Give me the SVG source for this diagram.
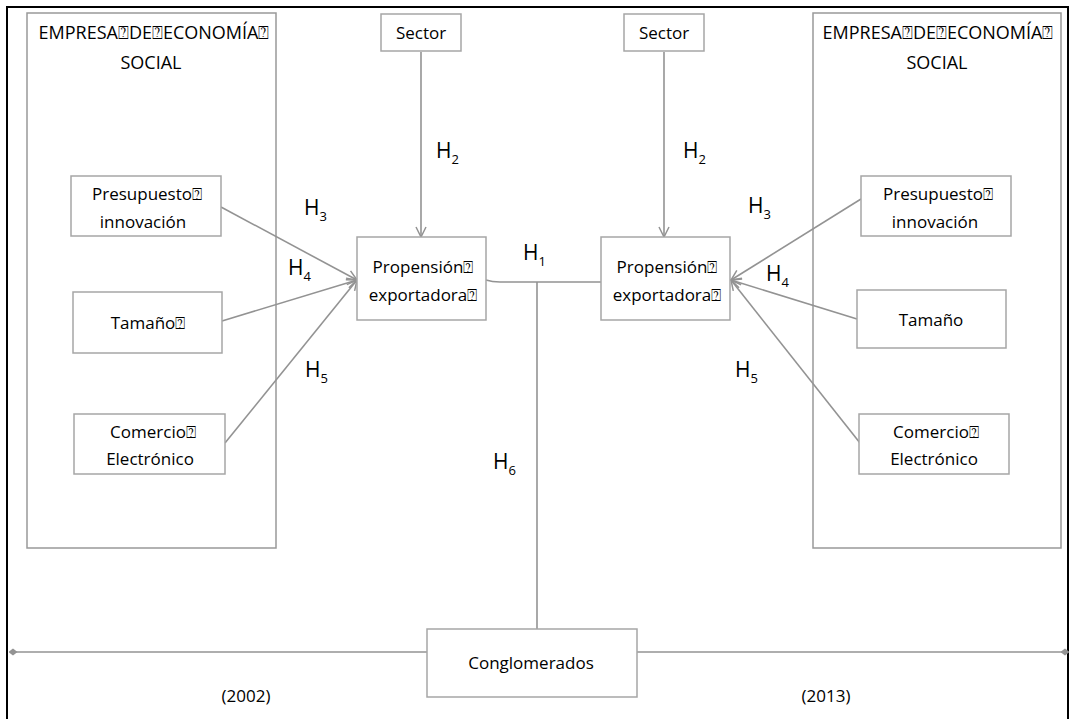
<svg xmlns="http://www.w3.org/2000/svg" width="1074" height="719" viewBox="0 0 1074 719">
<style>
text{font-family:"Open Sans","Liberation Sans",sans-serif;font-size:17px;fill:#000;text-anchor:middle}
.box{fill:#fff;stroke:#a6a6a6;stroke-width:1.5}
.big{fill:#fff;stroke:#999;stroke-width:1.5}
.con{fill:none;stroke:#939393;stroke-width:1.6}
.t{font-size:18px}
.h{font-size:21px;text-anchor:start}
.sub{font-size:13px}
</style>
<defs>
<marker id="arr" viewBox="0 0 12 12" refX="11" refY="6" markerWidth="12" markerHeight="12" markerUnits="userSpaceOnUse" orient="auto">
<path d="M1,1 L11,6 L1,11" fill="none" stroke="#939393" stroke-width="1.5"/>
</marker>
<marker id="dia" viewBox="0 0 10 10" refX="5" refY="5" markerWidth="9" markerHeight="9" markerUnits="userSpaceOnUse" orient="auto">
<path d="M0,5 L5,1 L10,5 L5,9 Z" fill="#939393"/>
</marker>
</defs>
<rect x="0" y="0" width="1074" height="719" fill="#fff"/>
<rect x="7" y="7" width="1061" height="730" fill="none" stroke="#000" stroke-width="2"/>

<g id="empresa-left">
<rect class="big" x="27" y="13" width="249" height="535"/>
<text class="t" x="154" y="39">EMPRESA⍰DE⍰ECONOMÍA⍰</text>
<text class="t" x="151" y="69">SOCIAL</text>
</g>
<g id="empresa-right">
<rect class="big" x="813" y="13" width="248" height="535"/>
<text class="t" x="938" y="39">EMPRESA⍰DE⍰ECONOMÍA⍰</text>
<text class="t" x="937" y="69">SOCIAL</text>
</g>

<g id="connectors">
<line class="con" x1="421" y1="52" x2="421" y2="237" marker-end="url(#arr)"/>
<line class="con" x1="664" y1="52" x2="664" y2="237" marker-end="url(#arr)"/>
<line class="con" x1="221" y1="207" x2="357" y2="280" marker-end="url(#arr)"/>
<line class="con" x1="222" y1="321" x2="357" y2="280" marker-end="url(#arr)"/>
<line class="con" x1="225" y1="443" x2="357" y2="280" marker-end="url(#arr)"/>
<line class="con" x1="861" y1="199" x2="731" y2="280" marker-end="url(#arr)"/>
<line class="con" x1="857" y1="319" x2="731" y2="280" marker-end="url(#arr)"/>
<line class="con" x1="860" y1="443" x2="731" y2="280" marker-end="url(#arr)"/>
<path class="con" d="M486,280 Q492,282 500,282 L601,282"/>
<line class="con" x1="537" y1="282" x2="537" y2="629"/>
<line class="con" x1="13" y1="652" x2="427" y2="652" marker-start="url(#dia)"/>
<line class="con" x1="637" y1="652" x2="1065" y2="652" marker-end="url(#dia)"/>
</g>

<g id="sector-left"><rect class="box" x="381" y="14" width="80" height="37"/><text x="421" y="39">Sector</text></g>
<g id="sector-right"><rect class="box" x="624" y="14" width="80" height="37"/><text x="664" y="39">Sector</text></g>

<g id="propension-left"><rect class="box" x="357" y="237" width="129" height="83"/><text x="423" y="273">Propensión⍰</text><text x="423" y="301">exportadora⍰</text></g>
<g id="propension-right"><rect class="box" x="601" y="237" width="129" height="83"/><text x="667" y="273">Propensión⍰</text><text x="667" y="301">exportadora⍰</text></g>

<g id="presupuesto-left"><rect class="box" x="71" y="176" width="150" height="60"/><text x="147" y="200">Presupuesto⍰</text><text x="143" y="228">innovación</text></g>
<g id="tamano-left"><rect class="box" x="73" y="292" width="149" height="61"/><text x="148" y="329">Tamaño⍰</text></g>
<g id="comercio-left"><rect class="box" x="74" y="414" width="151" height="60"/><text x="153" y="438">Comercio⍰</text><text x="150" y="465">Electrónico</text></g>

<g id="presupuesto-right"><rect class="box" x="861" y="176" width="150" height="60"/><text x="938" y="200">Presupuesto⍰</text><text x="935" y="228">innovación</text></g>
<g id="tamano-right"><rect class="box" x="857" y="290" width="149" height="58"/><text x="931" y="326">Tamaño</text></g>
<g id="comercio-right"><rect class="box" x="859" y="414" width="150" height="60"/><text x="936" y="438">Comercio⍰</text><text x="934" y="465">Electrónico</text></g>

<g id="conglomerados"><rect class="box" x="427" y="629" width="210" height="68"/><text x="531" y="669">Conglomerados</text></g>

<g id="labels">
<text class="h" x="436" y="158">H<tspan class="sub" dy="6">2</tspan></text>
<text class="h" x="683" y="158">H<tspan class="sub" dy="6">2</tspan></text>
<text class="h" x="304" y="215">H<tspan class="sub" dy="6">3</tspan></text>
<text class="h" x="288" y="275">H<tspan class="sub" dy="6">4</tspan></text>
<text class="h" x="305" y="377">H<tspan class="sub" dy="6">5</tspan></text>
<text class="h" x="523" y="260">H<tspan class="sub" dy="6">1</tspan></text>
<text class="h" x="748" y="213">H<tspan class="sub" dy="6">3</tspan></text>
<text class="h" x="766" y="281">H<tspan class="sub" dy="6">4</tspan></text>
<text class="h" x="735" y="377">H<tspan class="sub" dy="6">5</tspan></text>
<text class="h" x="493" y="469">H<tspan class="sub" dy="6">6</tspan></text>
<text x="246" y="702">(2002)</text>
<text x="826" y="702">(2013)</text>
</g>
</svg>
